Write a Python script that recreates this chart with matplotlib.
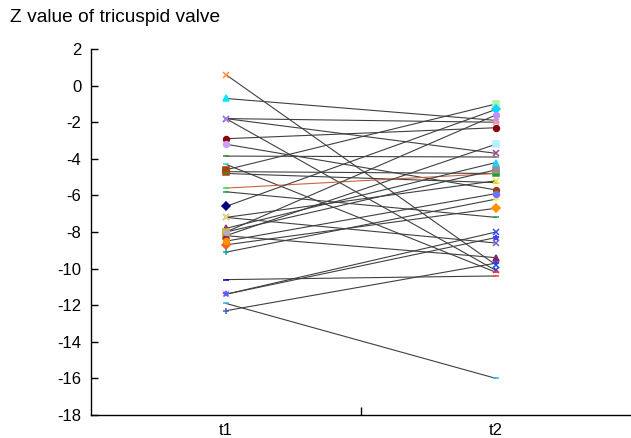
import matplotlib
matplotlib.use("Agg")
import matplotlib.pyplot as plt

# Data: Z value at t1 and t2 for each subject (one line per subject)
t1_values = [0.6, -0.7, -1.8, -1.8, -1.8, -2.9, -3.2, -3.85, -4.3, -4.6,
             -4.7, -4.8, -5.6, -5.8, -6.6, -7.2, -7.2, -7.8, -8.0, -8.2,
             -8.2, -8.7, -9.1, -8.5, -10.6, -11.4, -11.4, -11.9, -12.3, -8.0]
t2_values = [-9.8, -1.9, -2.0, -3.7, -10.1, -2.3, -5.7, -3.9, -10.2, -1.0,
             -4.8, -5.3, -4.8, -7.2, -1.3, -8.6, -5.2, -4.2, -4.6, -3.2,
             -9.4, -6.7, -6.2, -5.9, -10.4, -8.0, -8.3, -16.0, -9.7, -1.6]
time_labels = ["t1", "t2"]
y_ticks = list(range(-18, 3, 2))

# Styles
marker_list = ["x", "^", "x", "x", "x", "o", "o", "_", "_", "s",
               "s", "_", "_", "_", "D", "x", "x", "^", "s", "s",
               "^", "D", "+", "o", "_", "x", "*", "_", "+", "o"]
left_colors = ["#ff8c3c", "#00e5ff", "#c080ff", "#60d0ff", "#b070e0", "#8b0000", "#c9a0ff", "#2e8b2e", "#40d0d0", "#a04000",
               "#b04010", "#20a020", "#40e040", "#20a060", "#000080", "#8080ff", "#e8e060", "#8b3a62", "#e0b000", "#d0a000",
               "#9a2060", "#ff6020", "#20a0a0", "#ff9000", "#0000c0", "#ffa0d0", "#6060ff", "#20c0e0", "#4060c0", "#b0b0b0"]
right_colors = ["#3050ff", "#ff9040", "#c0a0ff", "#a040a0", "#3040c0", "#8b0000", "#a04000", "#808080", "#ff3030", "#b0f0b0",
                "#20a020", "#f0c000", "#10a010", "#20a060", "#00d8ff", "#8060d0", "#f0e040", "#20d0ff", "#909090", "#b0f0ff",
                "#8b2060", "#ff9000", "#f0f060", "#7070ff", "#ff4040", "#3050ff", "#4040ff", "#20c0ff", "#2040ff", "#c090ff"]
line_colors = ["#404040"] * len(t1_values)
line_colors[12] = "#c8643c"

fig = plt.figure(figsize=(6.31, 4.38), dpi=100)
ax = fig.add_axes([0.144, 0.0525, 0.856, 0.8355])

x_pos = [1, 2]
for i, (a, b) in enumerate(zip(t1_values, t2_values)):
    ax.plot(x_pos, [a, b], color=line_colors[i], linewidth=0.8, zorder=2)
    ax.plot(x_pos[0], a, marker=marker_list[i], color=left_colors[i], markersize=4.2,
            markeredgewidth=1.1, linestyle="none", zorder=3)
    ax.plot(x_pos[1], b, marker=marker_list[i], color=right_colors[i], markersize=4.2,
            markeredgewidth=1.1, linestyle="none", zorder=3)

ax.set_xlim(0.5, 2.5)
ax.set_ylim(-18, 2)
ax.set_yticks(y_ticks)
ax.set_yticklabels([str(t) for t in y_ticks], fontfamily="Liberation Sans", fontsize=12)
ax.set_xticks(x_pos)
ax.set_xticklabels(time_labels, fontfamily="Liberation Sans", fontsize=12)
ax.set_xticks([1.5], minor=True)
ax.tick_params(axis="x", which="major", length=0, pad=6)
ax.tick_params(axis="x", which="minor", direction="in", length=6, width=1)
ax.tick_params(axis="y", direction="in", length=5, width=1, pad=7)

for side in ["top", "right"]:
    ax.spines[side].set_visible(False)
for side in ["left", "bottom"]:
    ax.spines[side].set_linewidth(1.0)

fig.text(10 / 631, 1 - 18 / 438, "Z value of tricuspid valve", fontfamily="Liberation Sans",
         fontsize=13.8, ha="left", va="center")

fig.savefig("out.png", dpi=100)
